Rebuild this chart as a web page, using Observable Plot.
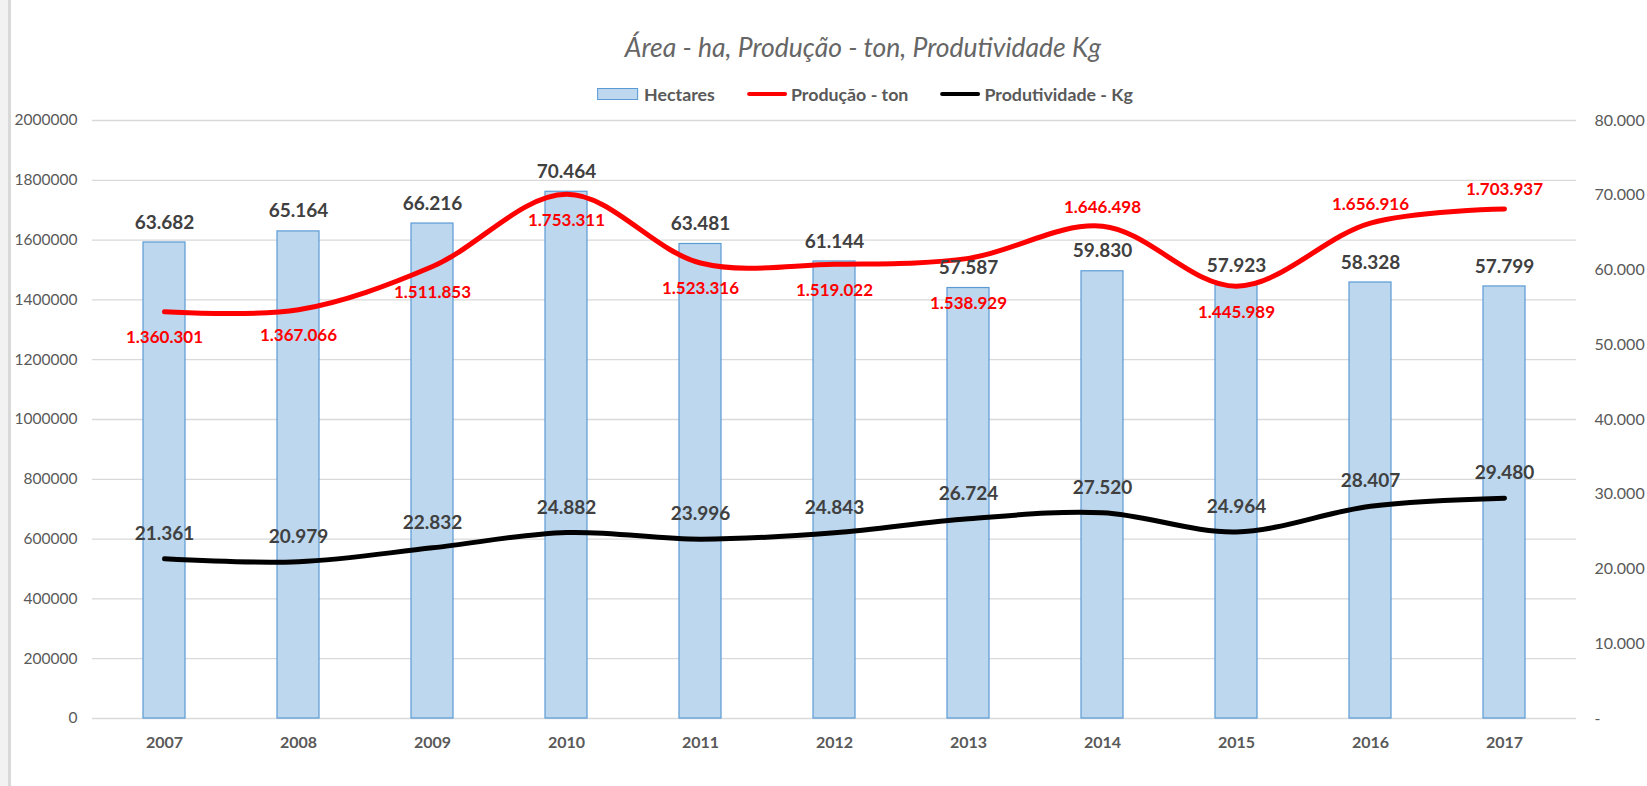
<!DOCTYPE html>
<html>
<head>
<meta charset="utf-8">
<script src="https://cdn.jsdelivr.net/npm/d3@7"></script>
<script src="https://cdn.jsdelivr.net/npm/@observablehq/plot@0.6"></script>
<style>
  html, body { margin: 0; padding: 0; background: #fff; }
  body { width: 1647px; height: 786px; overflow: hidden; position: relative; font-family: Lato, "Open Sans", sans-serif; }
  #border { position: absolute; left: 0; top: 0; width: 8px; height: 786px; background: #f2f2f2; border-right: 3px solid #d9d9d9; }
  #header { position: relative; height: 110px; }
  #title { position: absolute; left: 863px; top: 47px; transform: translate(-50%, -50%); white-space: nowrap;
           font-style: italic; font-size: 26.5px; color: #666666; }
  #legend { position: absolute; left: 865px; top: 94px; transform: translate(-50%, -50%); display: flex; align-items: center;
            white-space: nowrap; font-size: 17.8px; font-weight: bold; color: #595959; }
  .item { display: flex; align-items: center; }
  .item + .item { margin-left: 32px; }
  .sw { width: 41px; height: 12px; background: #BDD7EE; border: 1px solid #5B9BD5; box-sizing: border-box; margin-right: 6px; }
  .ln { width: 40px; height: 4px; border-radius: 2px; margin-right: 4px; }
  #chart { position: relative; }
</style>
</head>
<body>
<div id="border"></div>
<div id="header">
  <div id="title">Área - ha, Produção - ton, Produtividade Kg</div>
  <div id="legend"></div>
</div>
<div id="chart"></div>
<script>
// ---- data ----
const years = ["2007","2008","2009","2010","2011","2012","2013","2014","2015","2016","2017"];
const hectares = [63682, 65164, 66216, 70464, 63481, 61144, 57587, 59830, 57923, 58328, 57799];
const producao = [1360301, 1367066, 1511853, 1753311, 1523316, 1519022, 1538929, 1646498, 1445989, 1656916, 1703937];
const produtividade = [21361, 20979, 22832, 24882, 23996, 24843, 26724, 27520, 24964, 28407, 29480];
const leftTicks = [0, 200000, 400000, 600000, 800000, 1000000, 1200000, 1400000, 1600000, 1800000, 2000000];
const rightTicks = [0, 10000, 20000, 30000, 40000, 50000, 60000, 70000, 80000];
const seriesNames = ["Hectares", "Produção - ton", "Produtividade - Kg"];

// ---- helpers ----
const ratio = 2000000 / 80000; // secondary axis mapped onto primary
const loc = d3.formatLocale({decimal: ",", thousands: ".", grouping: [3], currency: ["", ""]});
const fmt = loc.format(",d");
const data = years.map((year, i) => ({year, hect: hectares[i], prod: producao[i], kg: produtividade[i]}));

// legend
const legend = document.getElementById("legend");
legend.innerHTML =
  `<div class="item"><div class="sw"></div><span>${seriesNames[0]}</span></div>` +
  `<div class="item"><div class="ln" style="background:#ff0000"></div><span>${seriesNames[1]}</span></div>` +
  `<div class="item"><div class="ln" style="background:#000"></div><span>${seriesNames[2]}</span></div>`;

const W = 1647, H = 676;
const prodAbove = new Set(["2014", "2016", "2017"]);
const prodFar = new Set(["2013"]);
const labelFont = {fontFamily: "Lato", fontWeight: "bold"};

const chart = Plot.plot({
  width: W,
  height: H,
  marginLeft: 92,
  marginRight: 71,
  marginTop: 10,
  marginBottom: 68,
  style: {fontFamily: "Lato", fontSize: "15.5px", color: "#595959", background: "transparent"},
  x: {type: "band", domain: years, padding: 0, label: null},
  y: {domain: [0, 2000000], label: null},
  marks: [
    Plot.gridY(leftTicks, {stroke: "#d9d9d9", strokeOpacity: 1, strokeWidth: 1.3}),
    Plot.barY(data, {x: "year", y: d => d.hect * ratio, fill: "#BDD7EE", stroke: "#5B9BD5", strokeWidth: 1.2, insetLeft: 46, insetRight: 46}),
    Plot.line(data, {x: "year", y: "prod", stroke: "#ff0000", strokeWidth: 5, curve: "catmull-rom", strokeLinecap: "round"}),
    Plot.line(data, {x: "year", y: d => d.kg * ratio, stroke: "#000", strokeWidth: 5, curve: "catmull-rom", strokeLinecap: "round"}),
    Plot.text(data, {x: "year", y: d => d.hect * ratio, text: d => fmt(d.hect), dy: -20, fill: "#404040", fontSize: 19, ...labelFont}),
    Plot.text(data, {x: "year", y: d => d.kg * ratio, text: d => fmt(d.kg), dy: -25, fill: "#404040", fontSize: 19, ...labelFont}),
    Plot.text(data.filter(d => prodAbove.has(d.year)), {x: "year", y: "prod", text: d => fmt(d.prod), dy: -19, fill: "#ff0000", fontSize: 17, ...labelFont}),
    Plot.text(data.filter(d => prodFar.has(d.year)), {x: "year", y: "prod", text: d => fmt(d.prod), dy: 45, fill: "#ff0000", fontSize: 17, ...labelFont}),
    Plot.text(data.filter(d => !prodAbove.has(d.year) && !prodFar.has(d.year)), {x: "year", y: "prod", text: d => fmt(d.prod), dy: 26, fill: "#ff0000", fontSize: 17, ...labelFont}),
    Plot.axisY({anchor: "left", ticks: leftTicks, tickFormat: d => String(d), tickSize: 0, tickPadding: 15, label: null, fontSize: 15.5}),
    Plot.axisY({anchor: "right", ticks: rightTicks.map(v => v * ratio), tickFormat: d => d === 0 ? "-" : fmt(d / ratio), tickSize: 0, tickPadding: 18, label: null, fontSize: 16}),
    Plot.axisX({tickSize: 0, tickPadding: 18, label: null, fontSize: 16, fontWeight: "bold"})
  ]
});
document.getElementById("chart").appendChild(chart);
</script>
</body>
</html>
